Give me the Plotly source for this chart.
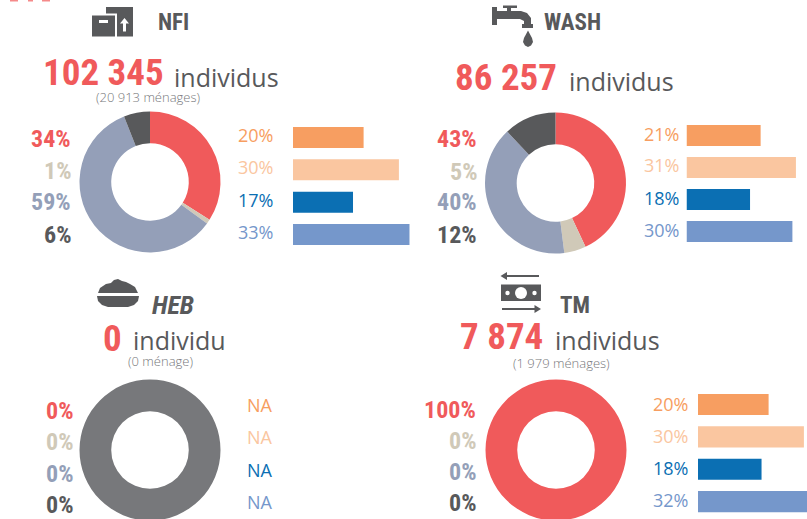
import plotly.graph_objects as go

W, H = 807, 522

# ---------- data ----------
sectors = ["NFI", "WASH", "HEB", "TM"]
people = ["102 345", "86 257", "0", "7 874"]
people_word = ["individus", "individus", "individu", "individus"]
households = ["(20 913 ménages)", "", "(0 ménage)", "(1 979 ménages)"]
donut_names = ["a", "b", "c", "d"]
nfi_donut = [34, 1, 59, 6]
wash_donut = [43, 5, 40, 12]
heb_donut = [0, 0, 0, 0]
tm_donut = [100, 0, 0, 0]
bar_names = ["r1", "r2", "r3", "r4"]
nfi_bars = [20, 30, 17, 33]
wash_bars = [21, 31, 18, 30]
tm_bars = [20, 30, 18, 32]

RED, BEIGE, SLATE, DARK = "#F05A5B", "#D0C9B8", "#949FB8", "#58595B"
ORANGE, PEACH, BLUE, SKY = "#F79E61", "#FAC6A0", "#0B6FB3", "#7597CB"
GREY_RING = "#77787B"
donut_colors = [RED, BEIGE, SLATE, DARK]
bar_colors = [ORANGE, PEACH, BLUE, SKY]
BOLD = "Roboto Condensed, Roboto"
LIGHT = "Open Sans"

fx = lambda x: x / W
fy = lambda y: 1 - y / H

fig = go.Figure()
annotations, shapes = [], []


def text(x, y, s, size, color, anchor="left", family=LIGHT, bold=False, italic=False, weight=300):
    annotations.append(dict(x=fx(x), y=fy(y), xref="paper", yref="paper", text=s, showarrow=False,
                            xanchor=anchor, yanchor="middle", align=anchor,
                            font=dict(family=family, size=size, color=color,
                                      weight=700 if bold else weight,
                                      style="italic" if italic else "normal"),
                            borderpad=0, borderwidth=0))


def donut(cx, cy, values, colors):
    r = 70.5
    fig.add_trace(go.Pie(labels=donut_names, values=values, sort=False, direction="clockwise", rotation=0,
                         hole=0.55, textinfo="none", hoverinfo="skip", showlegend=False,
                         marker=dict(colors=colors, line=dict(width=0)),
                         domain=dict(x=[fx(cx - r), fx(cx + r)], y=[fy(cy + r), fy(cy - r)])))


def bars(idx, x0, x1, y0, y1, values, maxv):
    ax = "" if idx == 1 else str(idx)
    fig.add_trace(go.Bar(x=values, y=bar_names, orientation="h", marker=dict(color=bar_colors, line=dict(width=0)),
                         hoverinfo="skip", showlegend=False, xaxis=f"x{ax}", yaxis=f"y{ax}"))
    fig.update_layout({
        f"xaxis{ax}": dict(domain=[fx(x0), fx(x1)], range=[0, maxv], visible=False, anchor=f"y{ax}"),
        f"yaxis{ax}": dict(domain=[fy(y1), fy(y0)], categoryorder="array", categoryarray=bar_names,
                           autorange="reversed", visible=False, anchor=f"x{ax}"),
    })


def pct_column(x, ys, values, size, colors, anchor, bold):
    for y, v, c in zip(ys, values, colors):
        label = v if isinstance(v, str) else f"{v}%"
        if bold:
            text(x, y, label, size, c, anchor, BOLD, bold=True)
        else:
            text(x, y, label, size, c, anchor, LIGHT, weight=400)


def poly(points, fill=DARK):
    d = "M " + " L ".join(f"{fx(x):.5f},{fy(y):.5f}" for x, y in points) + " Z"
    shapes.append(dict(type="path", xref="paper", yref="paper", path=d, fillcolor=fill, line=dict(width=0), layer="above"))


def circ(cx, cy, rx, ry=None, fill=DARK):
    ry = ry or rx
    shapes.append(dict(type="circle", xref="paper", yref="paper", x0=fx(cx - rx), x1=fx(cx + rx),
                       y0=fy(cy + ry), y1=fy(cy - ry), fillcolor=fill, line=dict(width=0), layer="above"))


# ---------- donuts ----------
donut(150, 182, nfi_donut, donut_colors)
donut(555.5, 183, wash_donut, donut_colors)
donut(150, 450, [100], [GREY_RING])
donut(556, 450, tm_donut, donut_colors)

# ---------- bars ----------
PX_PER_PCT = 3.53
bars(1, 293, 293 + 34 * PX_PER_PCT, 121.3, 250.7, nfi_bars, 34)
bars(2, 686.5, 686.5 + 34 * PX_PER_PCT, 119.5, 247.5, wash_bars, 34)
bars(3, 698, 807, 388.3, 517.8, tm_bars, 109 / PX_PER_PCT)

# ---------- titles ----------
text(158, 22, sectors[0], 23, DARK, family=BOLD, bold=True)
text(544, 22, sectors[1], 23, DARK, family=BOLD, bold=True)
text(152, 305, sectors[2], 26, DARK, family=BOLD, bold=True, italic=True)
text(560, 305, sectors[3], 23, DARK, family=BOLD, bold=True)

# ---------- head counts ----------
text(43, 73, people[0], 37, RED, family=BOLD, bold=True)
text(173.5, 77, people_word[0], 25, DARK, weight=400)
text(148, 97, households[0], 13, "#77787B", "center")
text(455, 77, people[1], 37, RED, family=BOLD, bold=True)
text(568.5, 81, people_word[1], 25, DARK, weight=400)
text(103, 338, people[2], 37, RED, family=BOLD, bold=True)
text(133, 340, people_word[2], 25, DARK, weight=400)
text(160, 361, households[2], 13, "#77787B", "center")
text(460, 336, people[3], 37, RED, family=BOLD, bold=True)
text(554.5, 340, people_word[3], 25, DARK, weight=400)
text(561, 363, households[3], 13, "#77787B", "center")

# ---------- percentage columns ----------
pct_column(71, [139, 171, 202, 235], nfi_donut, 24, donut_colors, "right", True)
pct_column(477, [139, 172, 202, 235], wash_donut, 24, donut_colors, "right", True)
pct_column(73, [411, 442, 474, 505], heb_donut, 24, donut_colors, "right", True)
pct_column(476, [410, 441, 472, 503], tm_donut, 24, donut_colors, "right", True)
pct_column(273, [135, 167, 200, 232], nfi_bars, 18, bar_colors, "right", False)
pct_column(679, [134, 165, 198, 230], wash_bars, 18, bar_colors, "right", False)
pct_column(273, [405, 437, 470, 502], ["NA"] * 4, 18, bar_colors, "right", False)
pct_column(688, [404, 436, 468, 500], tm_bars, 18, bar_colors, "right", False)

# ---------- icons ----------
# NFI boxes
poly([(92, 15.5), (115, 15.5), (115, 36.5), (92, 36.5)])
poly([(106, 7), (133, 7), (133, 36.5), (117, 36.5), (117, 13.5), (106, 13.5)])
poly([(99, 20), (108, 20), (108, 23), (99, 23)], "white")
poly([(124.5, 18), (129, 23.5), (126, 23.5), (126, 31.5), (123, 31.5), (123, 23.5), (120, 23.5)], "white")
# WASH tap
poly([(492, 7), (497, 7), (497, 11), (507, 11), (507, 8), (503, 8), (503, 5.5), (517, 5.5), (517, 8),
      (511, 8), (511, 11), (521, 11), (527, 13), (531, 18), (531, 24), (533, 24), (533, 28), (522, 28),
      (522, 24), (524, 24), (524, 21), (520, 19), (497, 19), (497, 25), (492, 25)])
poly([(528, 30.5), (532, 38), (533, 42), (531, 45.5), (528, 47), (525, 45.5), (523, 42), (524, 38)])
# HEB bowl
poly([(98, 293), (100, 288), (106, 284), (111, 283), (114, 280), (118, 279), (122, 281), (126, 282),
      (130, 284), (135, 287), (138, 293)])
poly([(97, 296), (139, 296), (138, 301), (134, 305), (128, 307), (108, 307), (102, 305), (98, 301)])
# TM note and arrows
poly([(501, 284.5), (541, 284.5), (541, 301), (501, 301)])
circ(521, 293, 6, fill="white")
circ(507.5, 293, 2.2, fill="white")
circ(534.5, 293, 2.2, fill="white")
poly([(506, 275), (539, 275), (539, 277), (506, 277)])
poly([(500.5, 276), (507, 272), (507, 280)])
poly([(502, 308), (535, 308), (535, 310), (502, 310)])
poly([(541, 309), (534.5, 305), (534.5, 313)])
# cut-off red marks along the top edge
for x0, x1 in [(10, 18), (28, 33), (42, 50)]:
    poly([(x0, 0), (x1, 0), (x1, 1.5), (x0, 1.5)], "#F58A8A")

fig.update_layout(width=W, height=H, margin=dict(l=0, r=0, t=0, b=0), paper_bgcolor="white", plot_bgcolor="white",
                  bargap=0.35, annotations=annotations, shapes=shapes, showlegend=False)

fig.write_html("out.html", config=dict(displayModeBar=False),
               post_script="document.body.style.margin='0';document.body.style.overflow='hidden';")
